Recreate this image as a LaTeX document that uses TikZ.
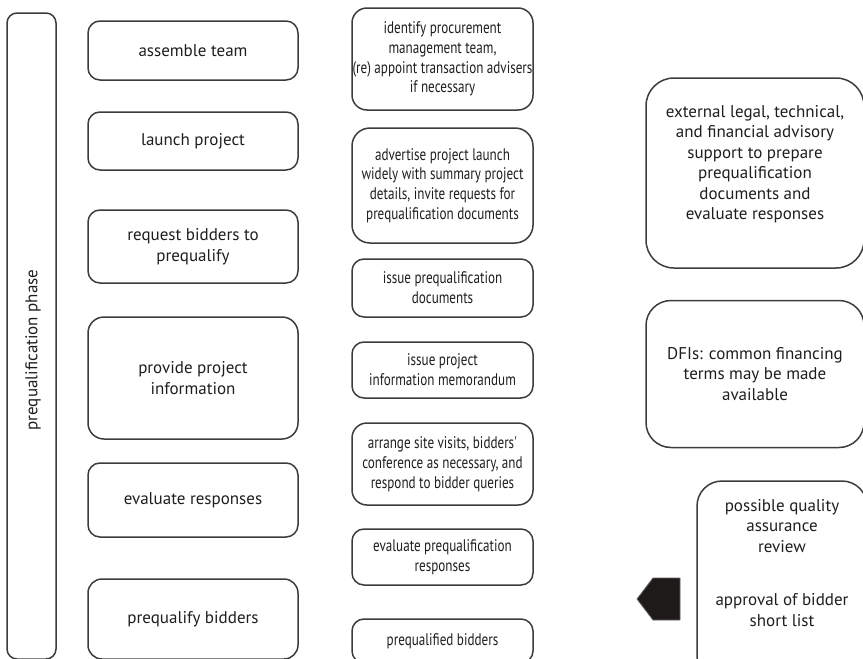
\documentclass[tikz,border=0pt]{standalone}
\usepackage{fontspec}
\setmainfont{PT Sans}
\newfontfamily\narrowfont[FakeStretch=0.78]{PT Sans}
\definecolor{linec}{HTML}{3C3C3C}
\definecolor{textc}{HTML}{1E1E1E}
\definecolor{arrowc}{HTML}{1E1A1A}
\tikzset{
  fnt/.style={font=\fontsize{17}{20.5}\selectfont},
  nfnt/.style={font=\narrowfont\fontsize{16.8}{19.8}\selectfont},
  box/.style={draw=linec, line width=1.5pt, rounded corners=#1, align=center,
    inner sep=0pt, text=textc, fnt},
  box/.default=12pt,
  nbox/.style={box=#1, nfnt},
  nbox/.default=12pt,
  txt/.style={align=center, inner sep=0pt, text=textc, fnt},
}
\begin{document}
\begin{tikzpicture}[x=1pt,y=-1pt]
\useasboundingbox (0,0) rectangle (863,659);
\clip (0,0) rectangle (863,659);
% phase bar
\node[box=10pt, minimum width=49pt, minimum height=646pt] (phase) at (31.5,336) {};
\node[txt, rotate=90] (phasetext) at (33,350) {prequalification phase};
% column 2
\node[box, minimum width=210pt, minimum height=59pt] (assemble) at (193,50.5) {assemble team};
\node[box, minimum width=210pt, minimum height=58pt] (launch) at (193,141) {launch project};
\node[box, minimum width=210pt, minimum height=73pt] (request) at (193,246.5) {request bidders to\\prequalify};
\node[box=16pt, minimum width=210pt, minimum height=122pt] (provide) at (193,378) {provide project\\information};
\node[box, minimum width=210pt, minimum height=74pt] (evaluate) at (193,500) {evaluate responses};
\node[box=14pt, minimum width=210pt, minimum height=80pt] (prequalify) at (193,619) {prequalify bidders};
% column 3
\node[nbox=15pt, minimum width=181pt, minimum height=102pt] (identify) at (442.5,59) {identify procurement\\management team,\\(re) appoint transaction advisers\\if necessary};
\node[nbox=18pt, minimum width=181pt, minimum height=115pt] (advertise) at (442.5,185.5) {advertise project launch\\widely with summary project\\details, invite requests for\\prequalification documents};
\node[nbox, minimum width=181pt, minimum height=58pt] (issuedocs) at (442.5,288) {issue prequalification\\documents};
\node[nbox, minimum width=181pt, minimum height=56pt] (issuememo) at (442.5,370) {issue project\\information memorandum};
\node[nbox=15pt, minimum width=181pt, minimum height=82pt] (arrange) at (442.5,464) {arrange site visits, bidders'\\conference as necessary, and\\respond to bidder queries};
\node[nbox, minimum width=181pt, minimum height=56pt] (evalpq) at (442.5,557) {evaluate prequalification\\responses};
\node[nbox, minimum width=181pt, minimum height=44pt] (pqbidders) at (442.5,641) {prequalified bidders};
% column 4
\node[box=28pt, minimum width=218pt, minimum height=190pt] (external) at (755,173) {};
\node[txt] (externaltext) at (755,164) {external legal, technical,\\and financial advisory\\support to prepare\\prequalification\\documents and\\evaluate responses};
\node[box=25pt, minimum width=218pt, minimum height=147pt] (dfi) at (755,374) {DFIs: common financing\\terms may be made\\available};
\node[box=25pt, minimum width=170pt, minimum height=200pt] (qa) at (782,581) {};
\node[txt] (qatext) at (782,563) {possible quality\\assurance\\review\\[33pt]approval of bidder\\short list};
% black pointer
\filldraw[fill=arrowc, draw=linec!80, line width=0.8pt, line join=round]
  (637,599) -- (653,578) -- (680,578) -- (680,620) -- (653,620) -- cycle;
\end{tikzpicture}
\end{document}
